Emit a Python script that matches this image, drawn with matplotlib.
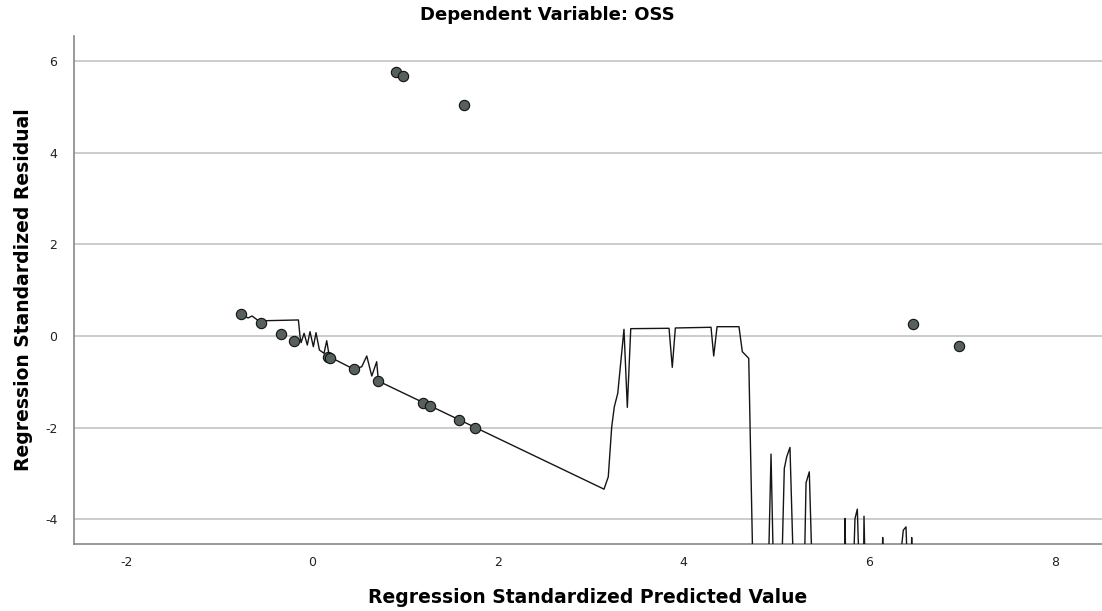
import matplotlib
matplotlib.use("Agg")
import matplotlib.pyplot as plt

plt.rcParams["axes.unicode_minus"] = False

# scatter of residuals vs predicted (standardized)
pred_x = [-0.767, -0.549, -0.334, -0.190, 0.170, 0.192, 0.452, 0.714,
          1.198, 1.270, 1.579, 1.755, 0.904, 0.976, 1.636, 6.469, 6.964]
resid_y = [0.481, 0.284, 0.040, -0.103, -0.450, -0.480, -0.728, -0.984,
           -1.471, -1.530, -1.836, -2.018, 5.755, 5.683, 5.043, 0.262, -0.219]

# fit line (jagged, runs below the axis on the right)
fit_x = [-0.767, -0.689, -0.646, -0.603, -0.549, -0.495, -0.147, -0.129,
         -0.118, -0.086, -0.051, -0.022, 0.014, 0.043, 0.079, 0.129, 0.158,
         0.186, 0.452, 0.535, 0.589, 0.643, 0.696, 0.714, 3.143, 3.189,
         3.226, 3.254, 3.291, 3.358, 3.394, 3.431, 3.843, 3.878, 3.911,
         4.295, 4.324, 4.360, 4.596, 4.632, 4.701, 4.745,
         4.914, 4.941, 4.966, 5.058, 5.084, 5.110, 5.145, 5.181,
         5.301, 5.318, 5.353, 5.382, 5.733, 5.737, 5.746,
         5.829, 5.845, 5.870, 5.888, 5.937, 5.942, 5.953,
         6.139, 6.143, 6.148, 6.326, 6.365, 6.394, 6.408,
         6.452, 6.455, 6.460]
fit_y = [0.481, 0.393, 0.437, 0.372, 0.284, 0.334, 0.350, -0.015,
         -0.146, 0.059, -0.197, 0.094, -0.234, 0.072, -0.306, -0.378, -0.103,
         -0.452, -0.728, -0.671, -0.437, -0.874, -0.562, -0.984, -3.344, -3.075,
         -1.982, -1.545, -1.252, 0.146, -1.558, 0.160, 0.168, -0.684, 0.175,
         0.190, -0.437, 0.203, 0.203, -0.343, -0.487, -5.0,
         -5.0, -2.579, -5.0, -5.0, -2.892, -2.638, -2.433, -5.0,
         -5.0, -3.207, -2.966, -5.0, -5.0, -3.985, -5.0,
         -5.0, -3.985, -3.781, -5.0, -5.0, -3.934, -5.0,
         -5.0, -4.400, -5.0, -5.0, -4.240, -4.168, -5.0,
         -5.0, -4.400, -5.0]

x_ticks = [-2, 0, 2, 4, 6, 8]
y_ticks = [-4, -2, 0, 2, 4, 6]

fig = plt.figure(figsize=(11.02, 6.11), dpi=100)
ax = fig.add_axes([0.0672, 0.1097, 0.9328, 0.8314])

ax.plot(fit_x, fit_y, color="#151515", linewidth=1.0, zorder=3)
ax.scatter(pred_x, resid_y, s=55, color="#56605e", edgecolor="#111111",
           linewidth=0.8, zorder=4)

ax.set_xlim(-2.562, 8.504)
ax.set_ylim(-4.541, 6.55)
ax.set_xticks(x_ticks)
ax.set_yticks(y_ticks)
ax.yaxis.grid(True, color="#cccccc", linewidth=1.4)
ax.set_axisbelow(True)
ax.tick_params(length=0, labelsize=9, colors="#222222")
ax.tick_params(axis="y", pad=12)
ax.tick_params(axis="x", pad=9)

for s in ["top", "right"]:
    ax.spines[s].set_visible(False)
for s in ["left", "bottom"]:
    ax.spines[s].set_color("#888888")
    ax.spines[s].set_linewidth(1.2)

ax.set_xlabel("Regression Standardized Predicted Value", fontsize=13.5,
              fontweight="bold", labelpad=13)
ax.set_ylabel("Regression Standardized Residual", fontsize=13.5,
              fontweight="bold", labelpad=9)
fig.text(0.497, 0.975, "Dependent Variable: OSS", ha="center", va="center",
         fontsize=13, fontweight="bold")

fig.savefig("out.png", dpi=100)
